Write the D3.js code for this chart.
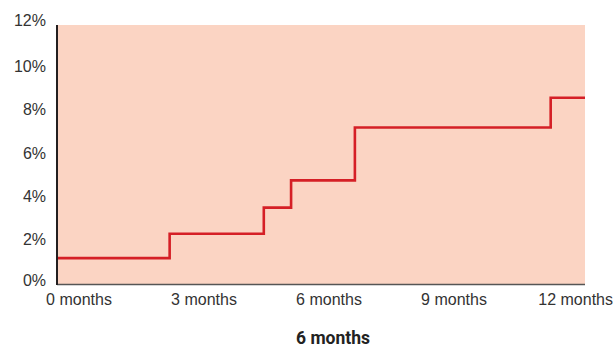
<!DOCTYPE html>
<html>
<head>
<meta charset="utf-8">
<script src="https://cdn.jsdelivr.net/npm/d3@7"></script>
<style>
  html, body { margin: 0; padding: 0; background: #fff; }
  svg { display: block; }
  .tick-label { font-family: "Liberation Sans", Arial, sans-serif; font-size: 16px; fill: #333; }
  .title { font-family: "Roboto", "Liberation Sans", sans-serif; font-weight: bold; font-size: 18px; fill: #222; }
</style>
</head>
<body>
<svg id="chart" width="613" height="348"></svg>
<script>
// Step series: month at which each level starts, and the rate (%) from there
const stepMonths = [0, 2.56, 4.7, 5.32, 6.77, 11.22];
const stepRates  = [1.2, 2.33, 3.54, 4.8, 7.25, 8.63];
const endMonth = 12;

const yTicks = [0, 2, 4, 6, 8, 10, 12];
const xTicks = [0, 3, 6, 9, 12];
const xTickLabels = ["0 months", "3 months", "6 months", "9 months", "12 months"];
const titleText = "6 months";

const W = 613, H = 348;
const plot = { left: 57, right: 585, top: 25, bottom: 284 };

const svg = d3.select("#chart");

const x = d3.scaleLinear().domain([0, 12]).range([plot.left, plot.right]);
const y = d3.scaleLinear().domain([0, 12]).range([plot.bottom, plot.top]);
// tick labels sit on their own, slightly wider spacing
const xLabel = d3.scaleLinear().domain([0, 12]).range([79, 579]);

// background panel
svg.append("rect")
  .attr("x", x(0)).attr("y", y(12))
  .attr("width", x(12) - x(0)).attr("height", y(0) - y(12))
  .attr("fill", "#fbd4c3");

// step line
const pts = stepMonths.map((m, i) => [m, stepRates[i]]);
pts.push([endMonth, stepRates[stepRates.length - 1]]);
const line = d3.line().x(d => x(d[0])).y(d => y(d[1])).curve(d3.curveStepAfter);
svg.append("path")
  .datum(pts)
  .attr("d", line)
  .attr("fill", "none")
  .attr("stroke", "#d51f26")
  .attr("stroke-width", 2.6)
  .attr("stroke-linejoin", "miter");

// axes lines
svg.append("line")
  .attr("x1", x(0)).attr("x2", x(12))
  .attr("y1", y(0) + 0.5).attr("y2", y(0) + 0.5)
  .attr("stroke", "#555").attr("stroke-width", 1.5);
svg.append("line")
  .attr("x1", x(0)).attr("x2", x(0))
  .attr("y1", y(12)).attr("y2", y(0) + 1)
  .attr("stroke", "#231f20").attr("stroke-width", 2);

// y tick labels
svg.append("g").selectAll("text")
  .data(yTicks)
  .join("text")
  .attr("class", "tick-label")
  .attr("x", 46)
  .attr("y", d => y(d) + (d === 0 ? -4 : d === 12 ? -5 : -1.5))
  .attr("dy", "0.35em")
  .attr("text-anchor", "end")
  .text(d => d + "%");

// x tick labels
const xt = svg.append("g").selectAll("text")
  .data(xTicks)
  .join("text")
  .attr("class", "tick-label")
  .attr("y", 305)
  .attr("text-anchor", "middle")
  .text((d, i) => xTickLabels[i]);
xt.each(function(d) {
  const w = this.getComputedTextLength();
  const cx = Math.min(xLabel(d), W - w / 2);
  d3.select(this).attr("x", cx);
});

// title, set in a condensed width
svg.append("text")
  .attr("class", "title")
  .attr("x", 333).attr("y", 344)
  .attr("text-anchor", "middle")
  .attr("textLength", 74)
  .attr("lengthAdjust", "spacingAndGlyphs")
  .text(titleText);
</script>
</body>
</html>
